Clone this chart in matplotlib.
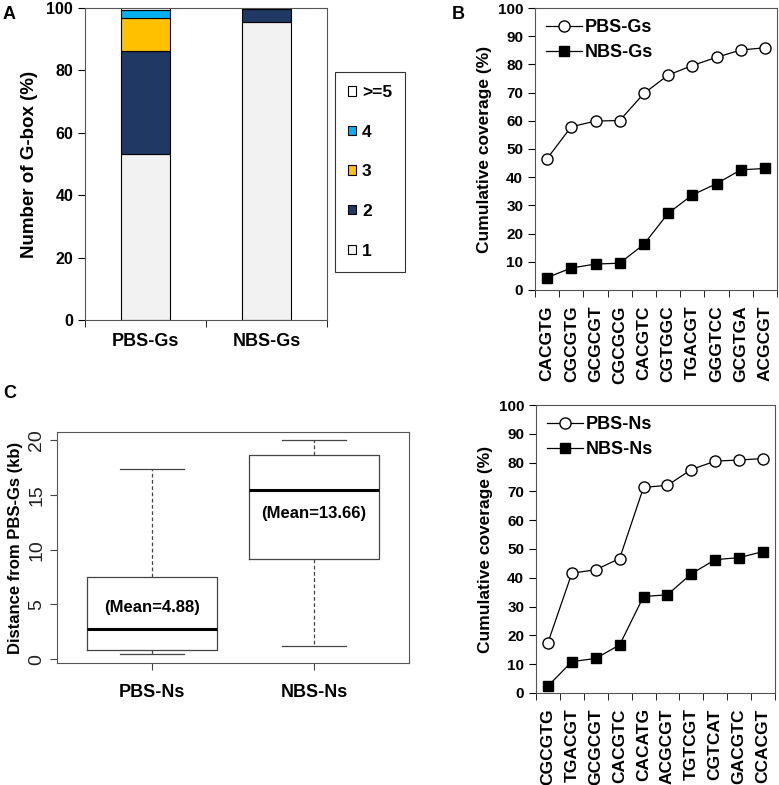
import numpy as np
import matplotlib
matplotlib.use('Agg')
from matplotlib import pyplot as plt
from matplotlib.patches import Patch

plt.rcParams['font.family'] = ['Liberation Sans', 'DejaVu Sans']
plt.rcParams['font.weight'] = 'bold'
plt.rcParams['axes.labelweight'] = 'bold'

W, H = 779, 785

# Panel A: stacked share of G-box counts
groups_a = ['PBS-Gs', 'NBS-Gs']
count_labels = ['1', '2', '3', '4', '>=5']
count_colors = ['#f2f2f2', '#1f3864', '#ffc000', '#00b0f0', '#ffffff']
share_1 = [53.3, 95.6]
share_2 = [33.0, 4.2]
share_3 = [10.4, 0.1]
share_4 = [2.6, 0.05]
share_5 = [0.7, 0.05]

# Panel B: cumulative coverage of G-box variants
motifs_b = ['CACGTG', 'CGCGTG', 'GCGCGT', 'CGCGCG', 'CACGTC',
            'CGTGGC', 'TGACGT', 'GGGTCC', 'GCGTGA', 'ACGCGT']
pbs_gs = [46.6, 57.9, 59.9, 60.1, 69.7, 76.2, 79.6, 82.5, 85.1, 85.9]
nbs_gs = [4.4, 7.8, 9.2, 9.5, 16.2, 27.2, 33.7, 37.7, 42.6, 43.1]

# Panel C: distance from PBS-Gs (kb), box plot stats
groups_c = ['PBS-Ns', 'NBS-Ns']
whisk_lo = [0.46, 1.19]
q1 = [0.85, 9.16]
med = [2.8, 15.46]
q3 = [7.52, 18.63]
whisk_hi = [17.4, 20.0]
means = [4.88, 13.66]

# Panel D: cumulative coverage of N-box variants
motifs_d = ['CGCGTG', 'TGACGT', 'GCGCGT', 'CACGTC', 'CACATG',
            'ACGCGT', 'TGTCGT', 'CGTCAT', 'GACGTC', 'CCACGT']
pbs_ns = [17.5, 41.6, 42.8, 46.7, 71.4, 72.1, 77.6, 80.5, 80.9, 81.4]
nbs_ns = [2.4, 10.9, 12.0, 16.7, 33.5, 34.1, 41.4, 46.3, 47.0, 49.1]


def rect(l, t, r, b):
    return [l / W, 1 - b / H, (r - l) / W, (b - t) / H]


fig = plt.figure(figsize=(W / 100, H / 100), dpi=100)

# ---- A ----
axA = fig.add_axes(rect(85, 8, 327, 320))
x = np.arange(len(groups_a))
bottom = np.zeros(len(groups_a))
handles = []
for vals, lab, col in zip([share_1, share_2, share_3, share_4, share_5], count_labels, count_colors):
    axA.bar(x, vals, 0.4, bottom=bottom, color=col, edgecolor='black', linewidth=0.8)
    bottom += np.array(vals)
    handles.append(Patch(facecolor=col, edgecolor='black', linewidth=0.8, label=lab))
axA.set_xlim(-0.5, 1.5)
axA.set_ylim(0, 100)
axA.set_yticks(range(0, 101, 20))
axA.set_xticks(x)
axA.set_xticklabels(groups_a, fontsize=13)
axA.set_xticks([-0.5, 0.5, 1.5], minor=True)
axA.tick_params(axis='x', which='major', length=0, pad=9)
axA.tick_params(axis='x', which='minor', length=5, direction='out')
axA.tick_params(axis='y', labelsize=11.5, length=5)
axA.set_ylabel('Number of G-box (%)', fontsize=13.5, labelpad=6)
for s in axA.spines.values():
    s.set_color('#555555')
leg = fig.legend(handles=handles[::-1], loc='upper left', bbox_to_anchor=(335 / W, 1 - 72 / H),
                 fontsize=12.5, frameon=True, fancybox=False, edgecolor='black',
                 handlelength=0.45, handleheight=0.45, handletextpad=0.35,
                 labelspacing=1.42, borderpad=0.75, borderaxespad=0)
leg.get_frame().set_linewidth(0.8)
fig.text(3 / W, 1 - 19 / H, 'A', fontsize=13, fontweight='bold')


def coverage(ax, motifs, pbs, nbs, names):
    xi = np.arange(len(motifs))
    ax.plot(xi, pbs, '-o', color='black', mfc='white', mec='black', ms=8, lw=0.9, label=names[0])
    ax.plot(xi, nbs, '-s', color='black', mfc='black', mec='black', ms=7.5, lw=0.9, label=names[1])
    ax.set_xlim(-0.5, len(motifs) - 0.5)
    ax.set_ylim(0, 100)
    ax.set_yticks(range(0, 101, 10))
    ax.set_xticks(xi)
    ax.set_xticklabels(motifs, rotation=90, fontsize=12.5)
    ax.set_xticks(np.arange(-0.5, len(motifs), 1), minor=True)
    ax.tick_params(axis='x', which='major', length=0, pad=11)
    ax.tick_params(axis='x', which='minor', length=5, direction='out')
    ax.tick_params(axis='y', labelsize=11, length=5)
    ax.set_ylabel('Cumulative coverage (%)', fontsize=12.5)
    for s in ax.spines.values():
        s.set_color('#555555')
    ax.legend(loc='upper left', frameon=False, fontsize=13, handlelength=2.0,
              handletextpad=0.15, labelspacing=0.45, borderaxespad=0.2)


# ---- B ----
axB = fig.add_axes(rect(535, 8, 777, 290))
coverage(axB, motifs_b, pbs_gs, nbs_gs, ['PBS-Gs', 'NBS-Gs'])
fig.text(452 / W, 1 - 19 / H, 'B', fontsize=13, fontweight='bold')

# ---- D ----
axD = fig.add_axes(rect(536, 405, 775, 693))
coverage(axD, motifs_d, pbs_ns, nbs_ns, ['PBS-Ns', 'NBS-Ns'])

# ---- C ----
axC = fig.add_axes(rect(57, 432, 409, 663))
stats = []
for i in range(len(groups_c)):
    stats.append(dict(med=med[i], q1=q1[i], q3=q3[i], whislo=whisk_lo[i],
                      whishi=whisk_hi[i], fliers=[], label=groups_c[i]))
axC.bxp(stats, positions=[1, 2], widths=0.8, showfliers=False, capwidths=0.4,
        boxprops=dict(color='#444444', linewidth=0.9),
        medianprops=dict(color='black', linewidth=2.2),
        whiskerprops=dict(color='#444444', linewidth=0.9, linestyle=(0, (3, 2))),
        capprops=dict(color='#444444', linewidth=0.9))
axC.set_xlim(0.414, 2.586)
axC.set_ylim(-0.35, 20.75)
axC.set_yticks([0, 5, 10, 15, 20])
axC.set_yticklabels(['0', '5', '10', '15', '20'], rotation=90, va='center',
                    fontweight='normal', fontsize=14, color='#222222')
axC.set_xticks([1, 2])
axC.set_xticklabels(groups_c, fontsize=13)
axC.tick_params(axis='x', length=5, pad=10, color='#444444')
axC.tick_params(axis='y', length=5, color='#444444')
axC.set_ylabel('Distance from PBS-Gs (kb)', fontsize=12, labelpad=4)
for s in axC.spines.values():
    s.set_color('#555555')
for i, m in enumerate(means):
    yv = [4.75, 13.3][i]
    axC.text(i + 1, yv, '(Mean=%.2f)' % m, ha='center', va='center', fontsize=12,
             fontweight='bold')
fig.text(3 / W, 1 - 398 / H, 'C', fontsize=13, fontweight='bold')

fig.savefig('out.png', dpi=100)
